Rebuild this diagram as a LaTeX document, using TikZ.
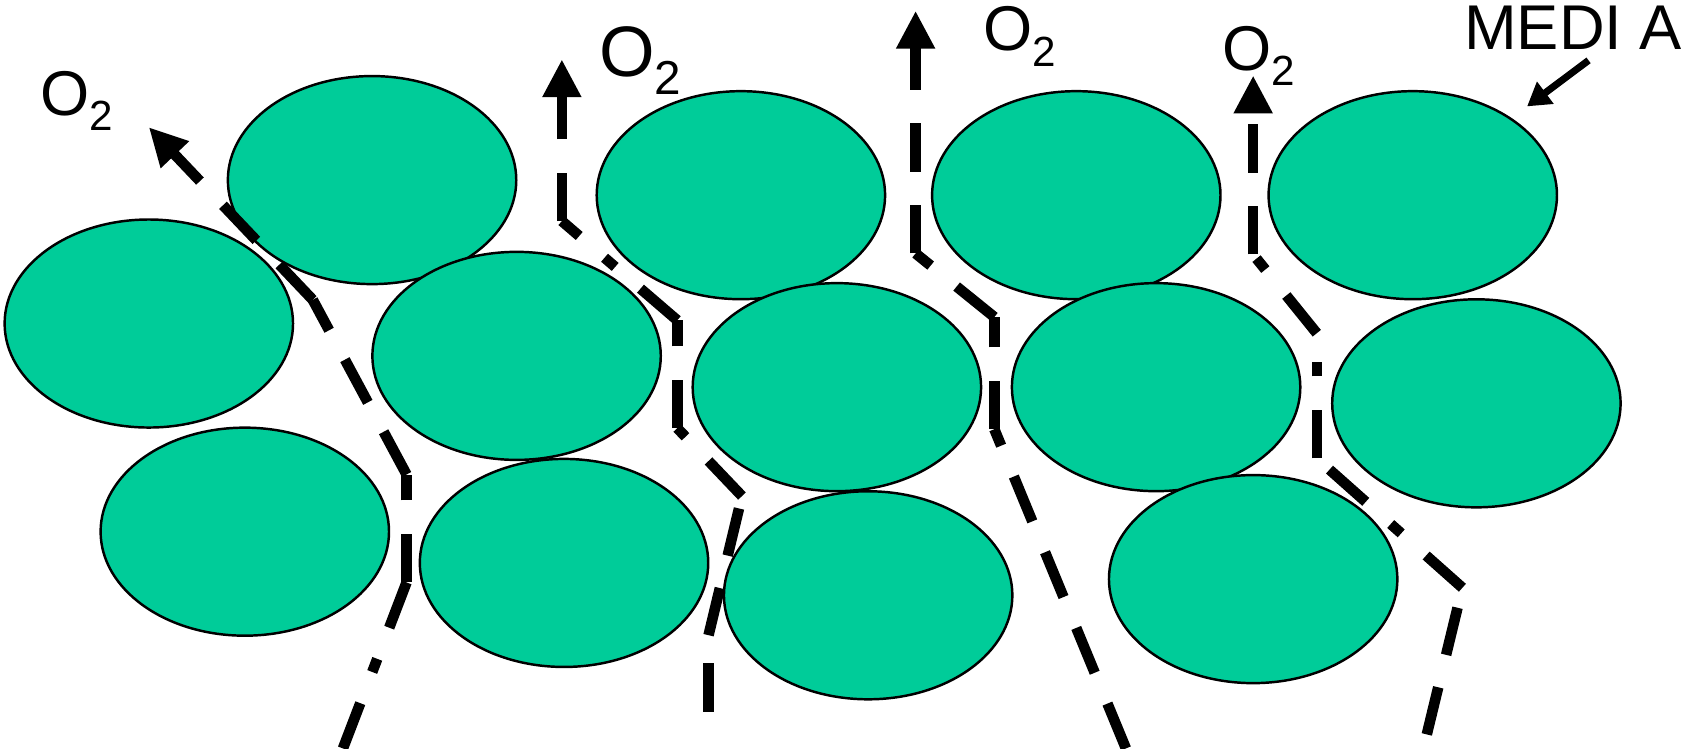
\documentclass[tikz,border=0pt]{standalone}
\usepackage{fontspec}
\setmainfont{Liberation Sans}
\usepackage{graphicx}
\usetikzlibrary{shapes.geometric, arrows.meta}
\definecolor{mediagreen}{HTML}{00CC99}
\newcommand{\Otwo}[1]{\scalebox{#1}{O\raisebox{-4.4pt}{\fontsize{12}{12}\selectfont 2}}}

\begin{document}
\begin{tikzpicture}[
    x=0.010784cm, y=-0.010784cm,
    grain/.style={ellipse, draw, line width=0.7pt, fill=mediagreen, minimum width=2.885cm, minimum height=2.081cm, inner sep=0pt},
    pore/.style={line width=3pt, dash pattern=on 13.8pt off 9.5pt},
    poredot/.style={line width=3pt, dash pattern=on 13.8pt off 9.5pt on 4pt off 9.5pt},
    porearr/.style={pore, -{Triangle[length=10.8pt, width=10.4pt]}},
    lbl/.style={anchor=base west, inner sep=0pt, font=\fontsize{18}{18}\selectfont},
    mediaarr/.style={line width=2pt, -{Triangle[length=6.5pt, width=7.5pt]}},
]
    \useasboundingbox (0,0) rectangle (1568,694);

    % Media grains
    \node[grain] (gt1) at (345,167) {};
    \node[grain] (gt2) at (687,181) {};
    \node[grain] (gt3) at (998,181) {};
    \node[grain] (gt4) at (1310,181) {};
    \node[grain] (gm1) at (138,300) {};
    \node[grain] (gm2) at (479,330) {};
    \node[grain] (gm3) at (776,359) {};
    \node[grain] (gm4) at (1072,359) {};
    \node[grain] (gm5) at (1369,374) {};
    \node[grain] (gb1) at (227,493) {};
    \node[grain] (gb2) at (523,522) {};
    \node[grain] (gb3) at (805,552) {};
    \node[grain] (gb4) at (1162,537) {};

    % Pore paths
    \coordinate (pa0) at (318,694);
    \coordinate (pa1) at (377,540);
    \coordinate (pa2) at (377,440);
    \coordinate (pa3) at (290,278);
    \coordinate (pa4) at (138,118);
    \draw[poredot] (pa0) -- (pa1);
    \draw[pore] (pa1) -- (pa2);
    \draw[pore] (pa2) -- (pa3);
    \draw[porearr] (pa3) -- (pa4);

    \coordinate (pb0) at (657,660);
    \coordinate (pb1) at (657,589);
    \coordinate (pb2) at (688,460);
    \coordinate (pb3) at (628,397);
    \coordinate (pb4) at (628,297);
    \coordinate (pb5) at (521,205);
    \coordinate (pb6) at (521,55);
    \draw[pore] (pb0) -- (pb1);
    \draw[pore] (pb1) -- (pb2);
    \draw[pore] (pb2) -- (pb3);
    \draw[pore] (pb3) -- (pb4);
    \draw[poredot] (pb4) -- (pb5);
    \draw[porearr] (pb5) -- (pb6);

    \coordinate (pc0) at (1044,694);
    \coordinate (pc1) at (922,398);
    \coordinate (pc2) at (922,294);
    \coordinate (pc3) at (849,235);
    \coordinate (pc4) at (849,10);
    \draw[pore] (pc0) -- (pc1);
    \draw[pore] (pc1) -- (pc2);
    \draw[pore] (pc2) -- (pc3);
    \draw[porearr] (pc3) -- (pc4);

    \coordinate (pd0) at (1323,681);
    \coordinate (pd1) at (1356,545);
    \coordinate (pd2) at (1221,425);
    \coordinate (pd3) at (1221,309);
    \coordinate (pd4) at (1162,236);
    \coordinate (pd5) at (1162,70);
    \draw[pore] (pd0) -- (pd1);
    \draw[poredot] (pd1) -- (pd2);
    \draw[poredot] (pd2) -- (pd3);
    \draw[poredot] (pd3) -- (pd4);
    \draw[porearr] (pd4) -- (pd5);

    % Labels
    \node[lbl] (oa) at (37,107) {\Otwo{1}};
    \node[lbl] (ob) at (555,71) {\Otwo{1.13}};
    \node[lbl] (oc) at (911,47) {\Otwo{1}};
    \node[lbl] (od) at (1133,65) {\Otwo{1}};
    \node[lbl] (media) at (1357,46) {MEDI A};

    \coordinate (mtail) at (1473,56);
    \draw[mediaarr, shorten >=5.5pt] (mtail) -- (gt4.38);
\end{tikzpicture}
\end{document}
